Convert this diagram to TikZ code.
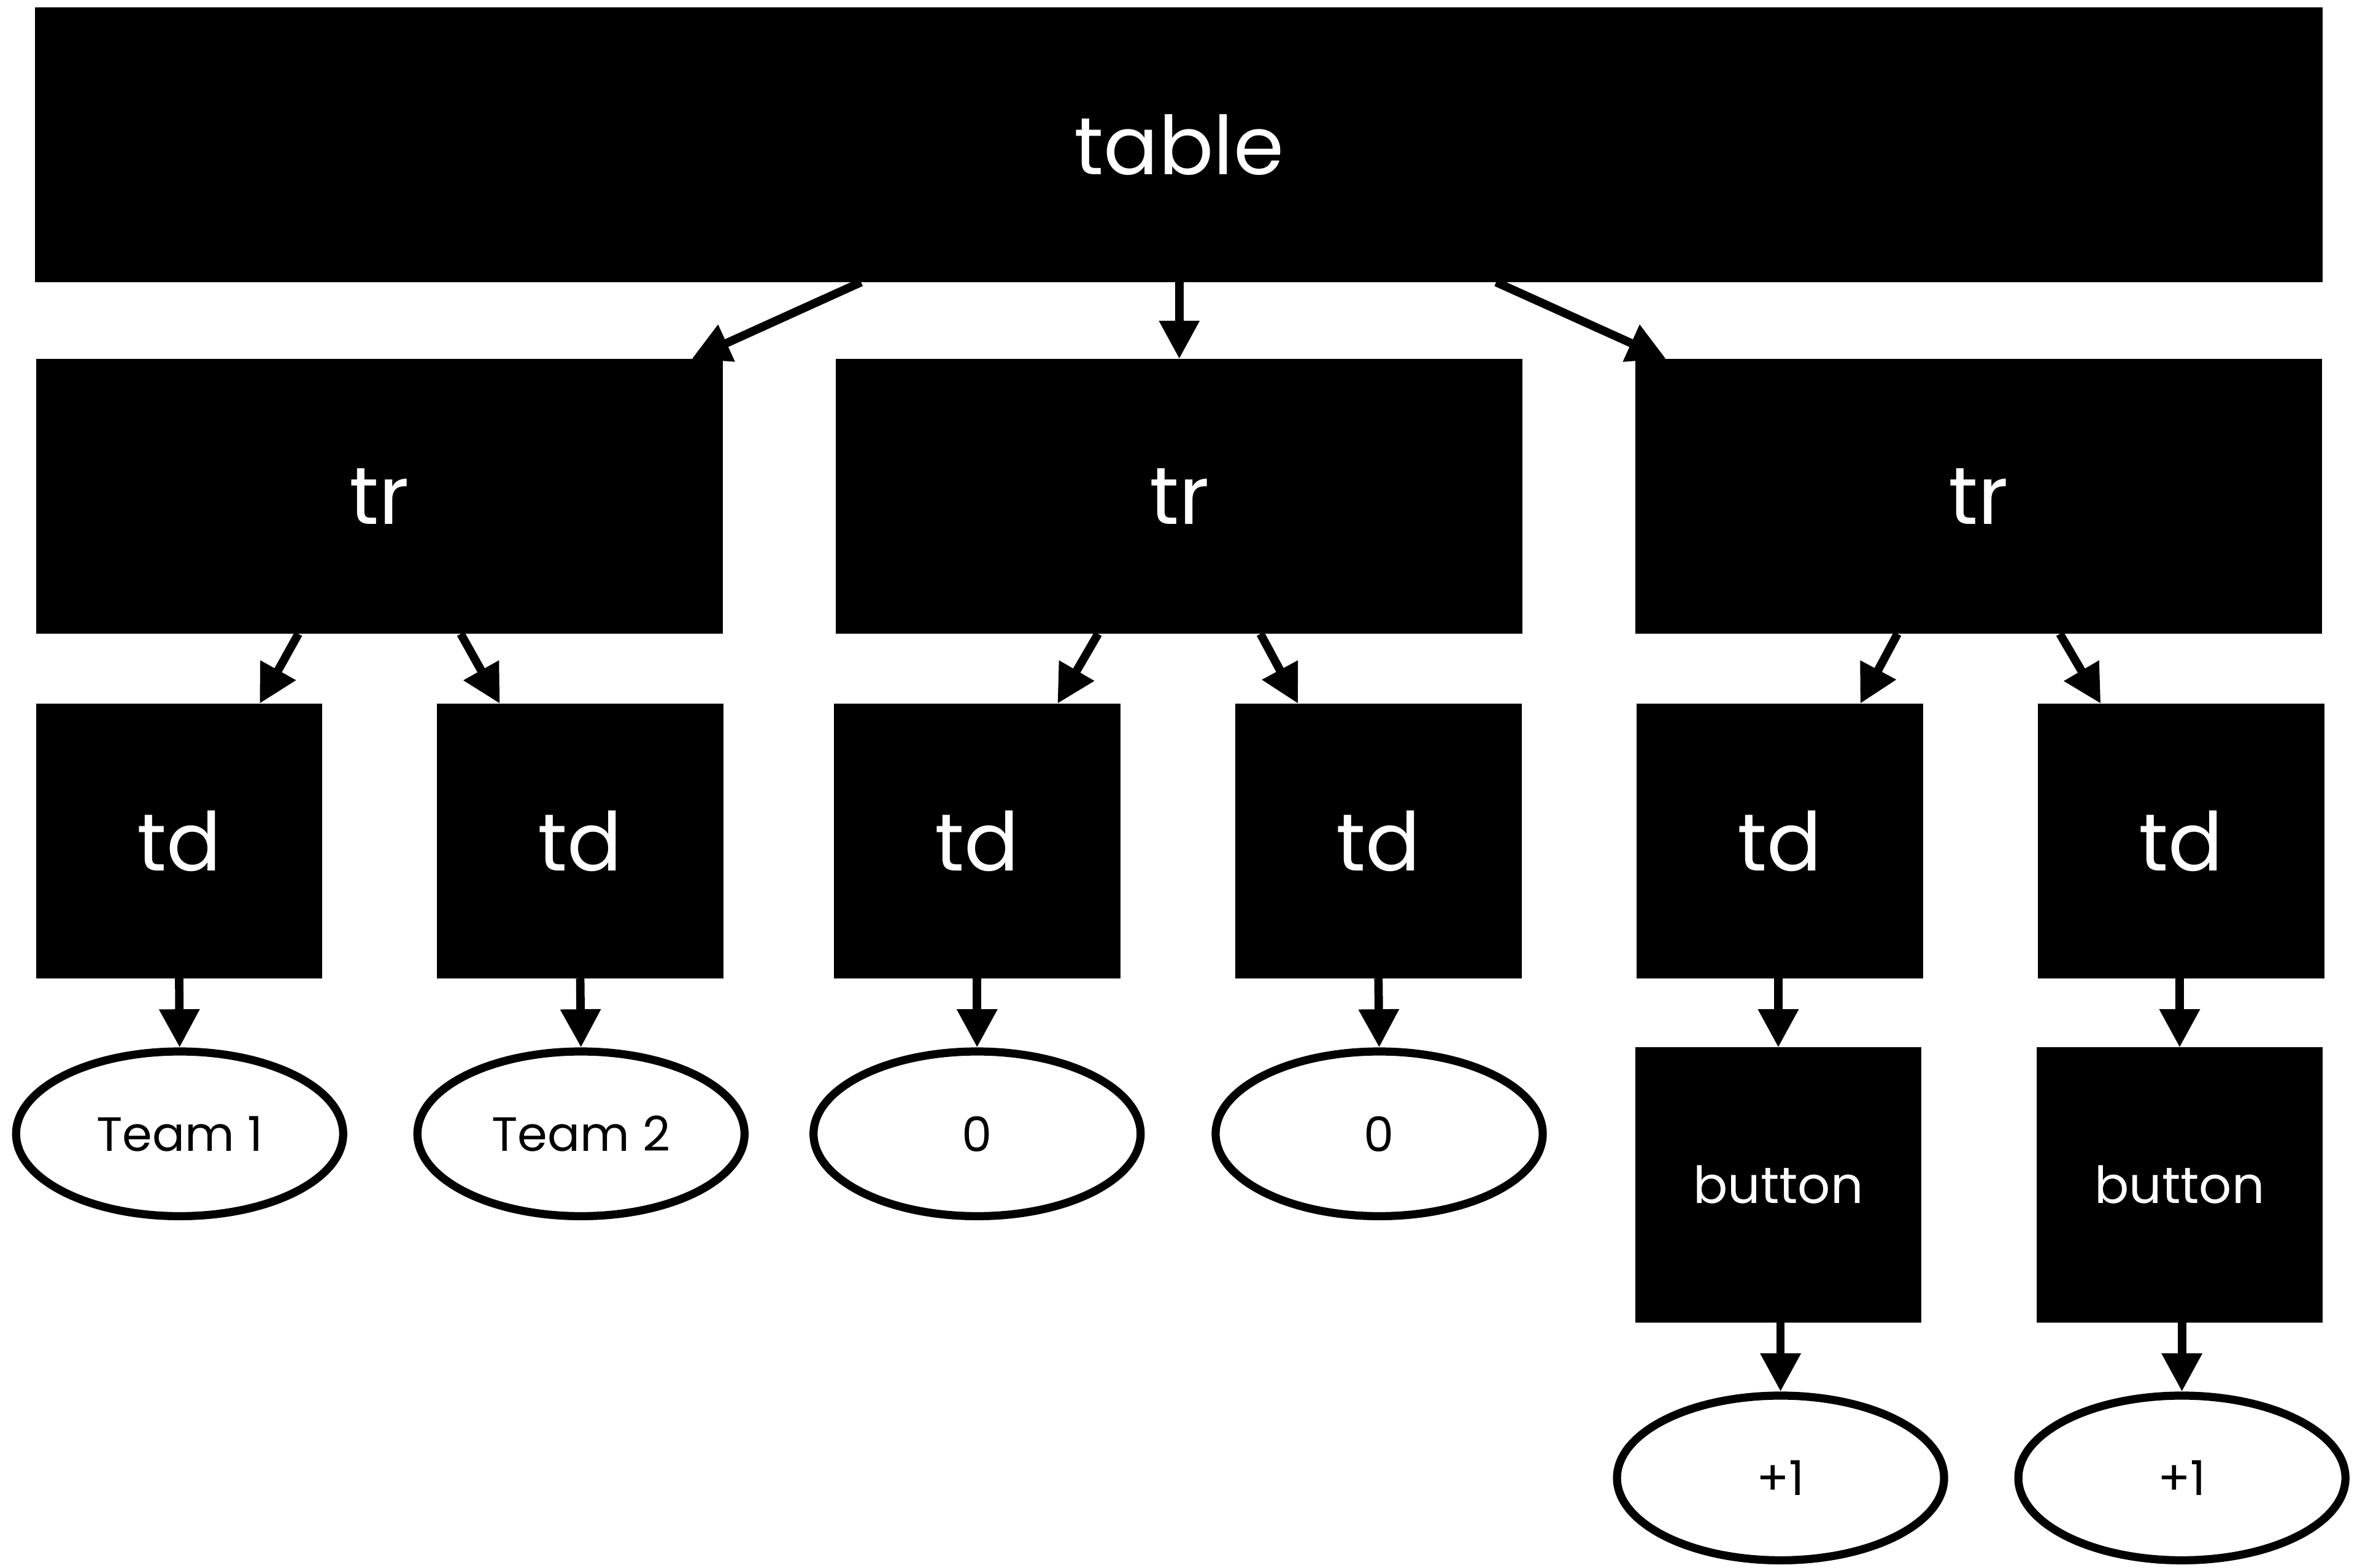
\documentclass[tikz,border=0pt]{standalone}
\usepackage{fontspec}
\setmainfont{Poppins}
\usepackage{tikz}
\usetikzlibrary{calc,shapes,arrows.meta}

\tikzset{
  tagbox/.style={fill=black, text=white, inner sep=0pt, outer sep=0pt,
    font=\fontsize{27}{30}\selectfont},
  tablebox/.style={tagbox, minimum width=761pt, minimum height=91.5pt},
  trbox/.style={tagbox, minimum width=228.5pt, minimum height=91.5pt},
  tdbox/.style={tagbox, minimum width=95.25pt, minimum height=91.5pt},
  btnbox/.style={tagbox, minimum width=95pt, minimum height=91.5pt,
    font=\fontsize{17}{20}\selectfont},
  leaf/.style={ellipse, draw=black, line width=2.7pt, fill=white, inner sep=0pt,
    minimum width=108.8pt, minimum height=54.8pt,
    font=\fontsize{16}{18}\selectfont},
  link/.style={line width=2.8pt, -{Triangle[length=12.7pt,width=12.8pt]}}
}

\begin{document}
\begin{tikzpicture}
  [
    x=0.5pt,
    y=-0.5pt
  ]
    \useasboundingbox (0,0) rectangle (1568,1043.4);

    % root
    \node[tablebox] (table) at (784.3,96.3) {table};

    % rows
    \node[trbox] (tr1) at (252.5,330.3) {tr};
    \node[trbox] (tr2) at (784.5,330.3) {tr};
    \node[trbox] (tr3) at (1316.3,330.3) {tr};

    % cells
    \node[tdbox] (td1) at (119.2,559.7) {td};
    \node[tdbox] (td2) at (386,559.7) {td};
    \node[tdbox] (td3) at (650,559.7) {td};
    \node[tdbox] (td4) at (917,559.7) {td};
    \node[tdbox] (td5) at (1184,559.7) {td};
    \node[tdbox] (td6) at (1451,559.7) {td};

    % cell contents
    \node[leaf] (team1) at (119.5,754.5) {Team 1};
    \node[leaf] (team2) at (386.5,754.5) {Team 2};
    \node[leaf] (score1) at (650,754.5) {0};
    \node[leaf] (score2) at (917.5,754.5) {0};
    \node[btnbox] (btn1) at (1183,788.5) {button};
    \node[btnbox] (btn2) at (1450,788.5) {button};
    \node[leaf] (plus1) at (1184.5,983.5) {+1};
    \node[leaf] (plus2) at (1451.5,983.5) {+1};

    % table -> tr
    \draw[link] ($(table.south)+(-211.5,0)$) -- ($(tr1.north east)+(-20.8,0)$);
    \draw[link] (table.south -| tr2.north) -- (tr2.north);
    \draw[link] ($(table.south)+(211,0)$) -- ($(tr3.north west)+(20.5,0)$);

    % tr -> td
    \draw[link] ($(tr1.south)+(-54,0)$) -- ($(td1.north)+(53.5,0)$);
    \draw[link] ($(tr1.south)+(54,0)$) -- ($(td2.north)+(-53.5,0)$);
    \draw[link] ($(tr2.south)+(-54,0)$) -- ($(td3.north)+(53.5,0)$);
    \draw[link] ($(tr2.south)+(54,0)$) -- ($(td4.north)+(-53.5,0)$);
    \draw[link] ($(tr3.south)+(-54,0)$) -- ($(td5.north)+(53.5,0)$);
    \draw[link] ($(tr3.south)+(54,0)$) -- ($(td6.north)+(-53.5,0)$);

    % td -> content
    \draw[link] (td1.south) -- (team1.north);
    \draw[link] (td2.south) -- (team2.north);
    \draw[link] (td3.south) -- (score1.north);
    \draw[link] (td4.south) -- (score2.north);
    \draw[link] (td5.south -| btn1.north) -- (btn1.north);
    \draw[link] (td6.south -| btn2.north) -- (btn2.north);

    % button -> label
    \draw[link] (btn1.south -| plus1.north) -- (plus1.north);
    \draw[link] (btn2.south -| plus2.north) -- (plus2.north);
  \end{tikzpicture}
\end{document}
